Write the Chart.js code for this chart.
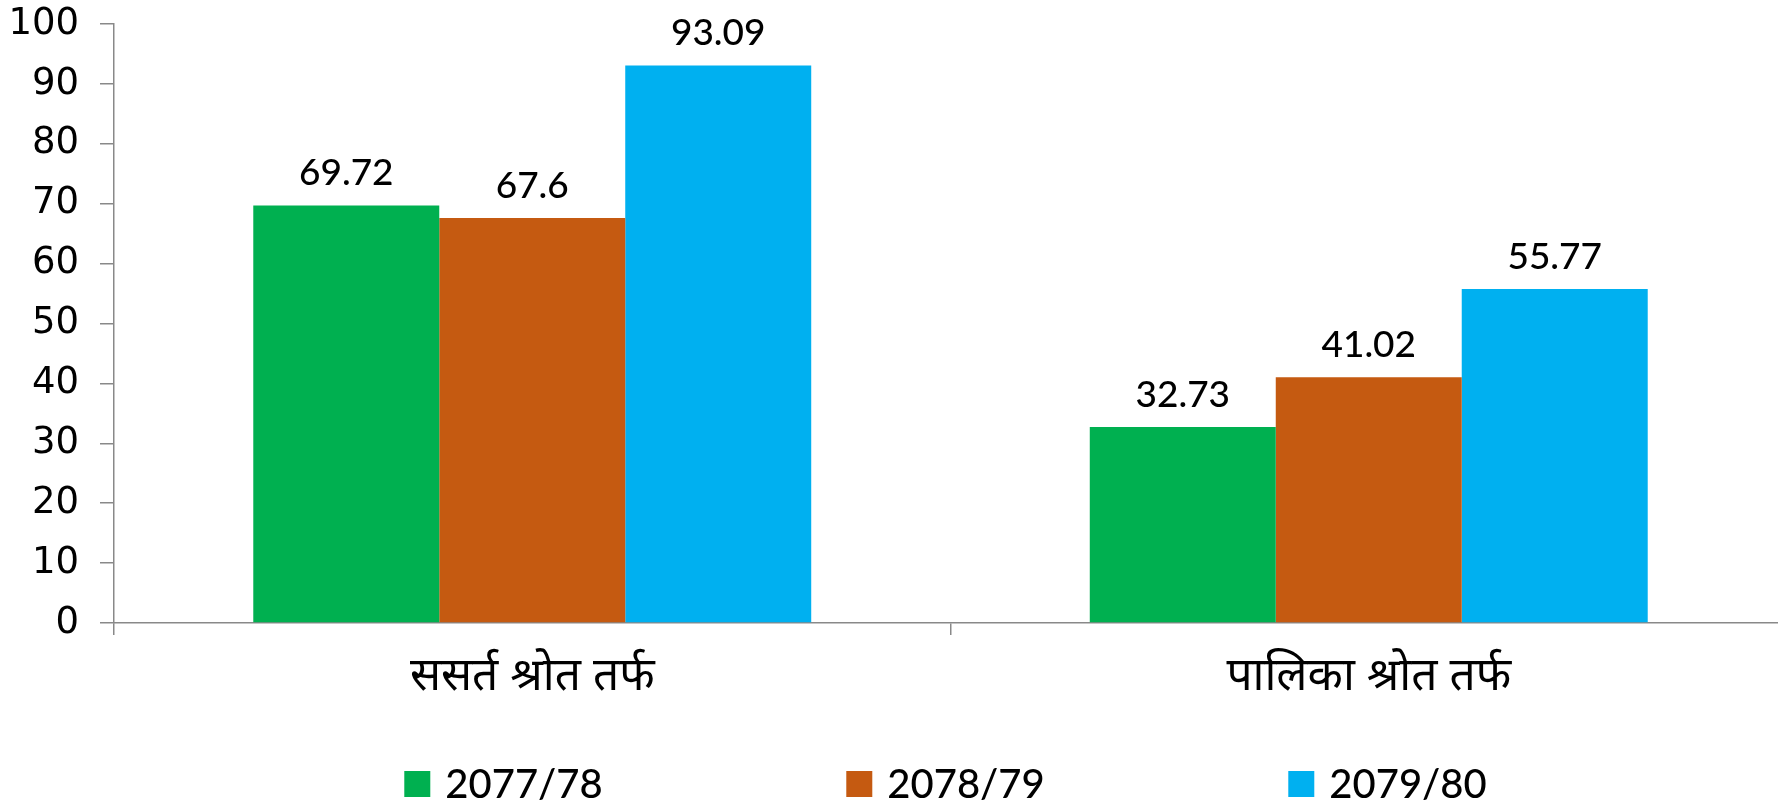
<!DOCTYPE html>
<html>
<head>
<meta charset="utf-8">
<script src="https://cdn.jsdelivr.net/npm/chart.js@4"></script>
<style>
  html, body { margin: 0; padding: 0; background: #fff; overflow: hidden; }
  #wrap { width: 1778px; height: 806px; overflow: hidden; position: relative; }
  canvas { display: block; }
</style>
</head>
<body>
<div id="wrap"><canvas id="c" width="1800" height="806"></canvas></div>
<script>
// ---- data ----
const categories = ['ससर्त श्रोत तर्फ', 'पालिका श्रोत तर्फ'];
const seriesNames = ['2077/78', '2078/79', '2079/80'];
const values2077 = [69.72, 32.73];
const values2078 = [67.6, 41.02];
const values2079 = [93.09, 55.77];
const yTicks = [0, 10, 20, 30, 40, 50, 60, 70, 80, 90, 100];

// ---- styles ----
const colors = ['#00B050', '#C55A11', '#00B0F0'];
const axisColor = '#898989';
const labelFont = "Lato, 'Open Sans', sans-serif";

const valueLabels = {
  id: 'valueLabels',
  afterDatasetsDraw(chart) {
    const ctx = chart.ctx;
    ctx.save();
    ctx.font = '500 37px ' + labelFont;
    ctx.fillStyle = '#000';
    ctx.textAlign = 'center';
    ctx.textBaseline = 'alphabetic';
    chart.data.datasets.forEach((ds, i) => {
      const meta = chart.getDatasetMeta(i);
      meta.data.forEach((el, j) => {
        ctx.fillText(String(ds.data[j]), el.x, el.y - 20);
      });
    });
    ctx.restore();
  }
};

const bottomLegend = {
  id: 'bottomLegend',
  afterDraw(chart) {
    const ctx = chart.ctx;
    const area = chart.chartArea;
    const box = 26, gap = 15, spacing = 442;
    ctx.save();
    ctx.font = '500 40px ' + labelFont;
    ctx.textBaseline = 'middle';
    ctx.textAlign = 'left';
    const items = chart.data.datasets;
    const lastW = ctx.measureText(items[items.length - 1].label).width;
    const total = spacing * (items.length - 1) + box + gap + lastW;
    let x = (area.left + area.right) / 2 - total / 2 - 5;
    const yc = chart.height - 22;
    items.forEach((ds, i) => {
      ctx.fillStyle = ds.backgroundColor;
      ctx.fillRect(x, yc - box / 2, box, box);
      ctx.fillStyle = '#000';
      ctx.fillText(ds.label, x + box + gap, yc + 1);
      x += spacing;
    });
    ctx.restore();
  }
};

const datasets = [values2077, values2078, values2079].map((vals, i) => ({
  label: seriesNames[i],
  data: vals,
  backgroundColor: colors[i],
  borderWidth: 0,
  categoryPercentage: 0.667,
  barPercentage: 1.0
}));

new Chart(document.getElementById('c'), {
  type: 'bar',
  data: { labels: categories, datasets },
  options: {
    responsive: false,
    animation: false,
    layout: { padding: { top: 0, left: 0, right: 13, bottom: 83 } },
    plugins: {
      legend: { display: false },
      tooltip: { enabled: false }
    },
    scales: {
      x: {
        offset: true,
        grid: {
          offset: true,
          drawOnChartArea: false,
          drawTicks: true,
          tickLength: 12,
          color: axisColor,
          lineWidth: 1.5
        },
        border: { display: true, color: axisColor, width: 1.5 },
        ticks: {
          color: '#000',
          padding: 14,
          font: { family: "'Noto Sans', 'Noto Sans Devanagari', 'Lohit Devanagari', sans-serif", size: 46 }
        },
        afterFit(scale) { scale.height = 100; }
      },
      y: {
        min: 0,
        max: 100,
        afterBuildTicks(scale) { scale.ticks = yTicks.map(v => ({ value: v })); },
        grid: {
          drawOnChartArea: false,
          drawTicks: true,
          tickLength: 14,
          color: axisColor,
          lineWidth: 1.5
        },
        border: { display: true, color: axisColor, width: 1.5 },
        ticks: {
          color: '#000',
          padding: 21,
          font: { family: "'DejaVu Sans', sans-serif", size: 37 }
        },
        afterFit(scale) {
          scale.width = 114;
          scale.paddingTop = 24;
          scale.paddingBottom = 0;
        }
      }
    }
  },
  plugins: [valueLabels, bottomLegend]
});
</script>
</body>
</html>
